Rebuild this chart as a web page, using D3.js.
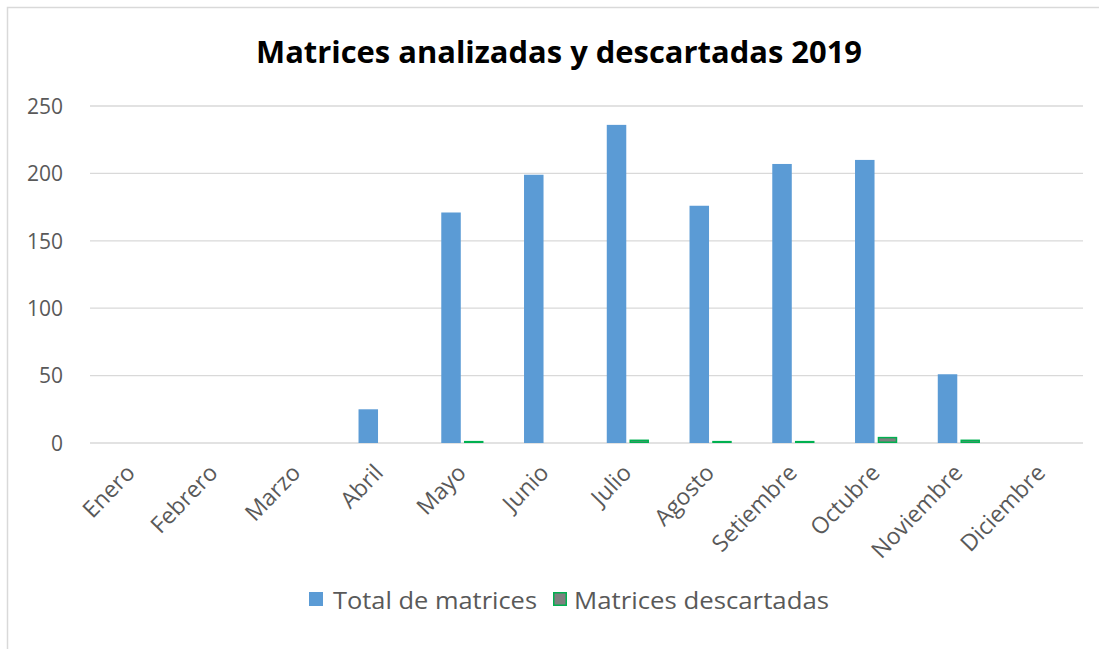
<!DOCTYPE html>
<html>
<head>
<meta charset="utf-8">
<script src="https://cdn.jsdelivr.net/npm/d3@7"></script>
<style>
html,body{margin:0;padding:0;background:#fff;}
svg{display:block;}
text{font-family:"Open Sans","Noto Sans",sans-serif;}
</style>
</head>
<body>
<svg id="chart" width="1099" height="649"></svg>
<script>
const months = ["Enero","Febrero","Marzo","Abril","Mayo","Junio","Julio","Agosto","Setiembre","Octubre","Noviembre","Diciembre"];
const totalMatrices = [0,0,0,25,171,199,236,176,207,210,51,0];
const matricesDescartadas = [0,0,0,0,1,0,2,1,1,4,2,0];
const seriesNames = ["Total de matrices","Matrices descartadas"];
const yTicks = [0,50,100,150,200,250];

const svg = d3.select("#chart");
const W = 1099, H = 649;
const margin = {left:90, right:16, top:106, bottom:206};

// outer chart frame
svg.append("rect").attr("x",7.5).attr("y",7.5).attr("width",W+10).attr("height",H+10)
  .attr("fill","#fff").attr("stroke","#d9d9d9").attr("stroke-width",1.5);

const x = d3.scaleBand().domain(months).range([margin.left, W - margin.right]).padding(0);
const y = d3.scaleLinear().domain([0,250]).range([H - margin.bottom, margin.top]);

// gridlines
svg.append("g").selectAll("line").data(yTicks).join("line")
  .attr("x1", margin.left).attr("x2", W - margin.right)
  .attr("y1", d => y(d)).attr("y2", d => y(d))
  .attr("stroke","#d9d9d9").attr("stroke-width",1.3);

// y axis labels
const yAxis = d3.axisLeft(y).tickValues(yTicks).tickSize(0).tickPadding(0);
const yg = svg.append("g").attr("transform",`translate(${margin.left-27},0)`).call(yAxis);
yg.select(".domain").remove();
yg.selectAll("text").attr("fill","#595959").style("font-size","21px")
  .style("font-family",'"Open Sans","Noto Sans",sans-serif').attr("dy","0.35em");

const bw = 19.5, gap = 1.6;
// blue bars
svg.append("g").selectAll("rect").data(months.map((m,i)=>({m, v: totalMatrices[i]})).filter(d=>d.v>0)).join("rect")
  .attr("x", d => x(d.m) + x.bandwidth()/2 - gap - bw)
  .attr("width", bw)
  .attr("y", d => y(d.v))
  .attr("height", d => y(0) - y(d.v))
  .attr("fill","#5b9bd5");
// green-outlined gray bars
svg.append("g").selectAll("rect").data(months.map((m,i)=>({m, v: matricesDescartadas[i]})).filter(d=>d.v>0)).join("rect")
  .attr("x", d => x(d.m) + x.bandwidth()/2 + gap + 0.75)
  .attr("width", bw - 1.5)
  .attr("y", d => y(d.v))
  .attr("height", d => Math.max(0, y(0) - y(d.v) - 0.75))
  .attr("fill","#7f7f7f").attr("stroke","#00b050").attr("stroke-width",1.5);

// x axis labels
const xAxis = d3.axisBottom(x).tickSize(0).tickPadding(0);
const xg = svg.append("g").attr("transform",`translate(0,${y(0)})`).call(xAxis);
xg.select(".domain").remove();
xg.selectAll("text")
  .attr("fill","#595959").style("font-size","23px")
  .style("font-family",'"Open Sans","Noto Sans",sans-serif')
  .attr("text-anchor","end")
  .attr("dy",null).attr("y",null)
  .attr("transform","translate(5,31) rotate(-46)");

// title
svg.append("text").attr("x", 559).attr("y", 63).attr("text-anchor","middle")
  .style("font-size","30px").style("font-weight","bold").attr("fill","#000")
  .style("font-family",'"Open Sans","Noto Sans",sans-serif')
  .attr("textLength",606).attr("lengthAdjust","spacingAndGlyphs")
  .text("Matrices analizadas y descartadas 2019");

// legend
const leg = svg.append("g");
const legItems = [
  {name: seriesNames[0], sx: 309, tx: 333, fill:"#5b9bd5", stroke:null, len:204},
  {name: seriesNames[1], sx: 553, tx: 574, fill:"#7f7f7f", stroke:"#00b050", len:255}
];
legItems.forEach(it => {
  leg.append("rect").attr("x", it.sx + (it.stroke?0.75:0)).attr("y", 592 + (it.stroke?0.75:0))
    .attr("width", it.stroke?12.5:14).attr("height", it.stroke?12.5:14)
    .attr("fill", it.fill).attr("stroke", it.stroke).attr("stroke-width", it.stroke?1.5:0);
  leg.append("text").attr("x", it.tx).attr("y", 609).attr("fill","#595959")
    .style("font-size","24px").attr("textLength", it.len).attr("lengthAdjust","spacingAndGlyphs")
    .text(it.name);
});
</script>
</body>
</html>
